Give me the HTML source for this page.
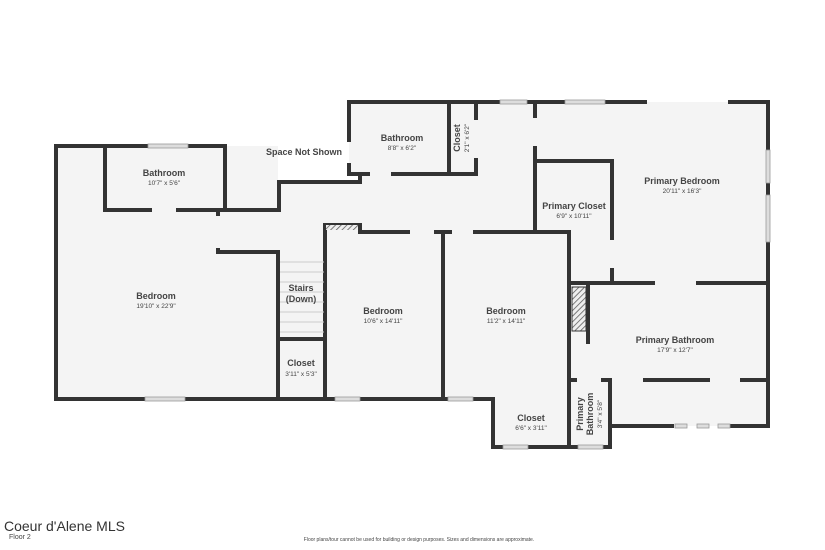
<!DOCTYPE html>
<html><head><meta charset="utf-8"><style>
html,body{margin:0;padding:0;background:#fff;}
svg{display:block;font-family:"Liberation Sans",sans-serif;}
.t{font-weight:bold;fill:#444;font-size:9px;text-anchor:middle;}
.d{fill:#444;font-size:6.5px;text-anchor:middle;}
</style></head><body>
<svg width="825" height="550" viewBox="0 0 825 550" xmlns="http://www.w3.org/2000/svg">
<defs><pattern id="h" width="4" height="4" patternUnits="userSpaceOnUse" patternTransform="rotate(45)"><rect width="4" height="4" fill="#eee"/><line x1="0" y1="0" x2="0" y2="4" stroke="#555" stroke-width="1.5"/></pattern></defs>
<g fill="#f4f4f4">
<rect x="56" y="146" width="222" height="253"/>
<polygon points="218,210 279,210 279,182 360,182 360,174 349,174 349,102 768,102 768,426 611,426 611,447 493,447 493,399 278,399 278,252 218,252"/>
</g>
<g fill="none" stroke="#333" stroke-width="4" stroke-linecap="square">
<!-- left bedroom -->
<polyline points="56,146 56,399 493,399"/>
<line x1="56" y1="146" x2="147" y2="146"/><line x1="188" y1="146" x2="225" y2="146"/>
<polyline points="105,146 105,210 150,210"/><polyline points="178,210 279,210 279,182 360,182 360,176"/>
<line x1="225" y1="146" x2="225" y2="210"/>
<line x1="218" y1="210" x2="218" y2="214"/>
<polyline points="218,250 218,252 278,252 278,399"/>
<line x1="278" y1="339" x2="325" y2="339"/>
<!-- upper bathroom/closet -->
<polyline points="349,140 349,102 500,102"/><line x1="349" y1="165" x2="349" y2="174"/>
<line x1="349" y1="174" x2="368" y2="174"/><line x1="393" y1="174" x2="476" y2="174"/>
<line x1="449" y1="102" x2="449" y2="174"/>
<line x1="476" y1="102" x2="476" y2="118"/><line x1="476" y1="160" x2="476" y2="174"/>
<line x1="527" y1="102" x2="565" y2="102"/><line x1="605" y1="102" x2="645" y2="102"/><line x1="730" y1="102" x2="768" y2="102"/>
<polyline points="768,102 768,426 740,426"/>
<!-- bedroom2 -->
<polyline points="325,399 325,225 360,225 360,232 408,232"/><line x1="436" y1="232" x2="450" y2="232"/>
<line x1="443" y1="232" x2="443" y2="399"/><line x1="325" y1="390" x2="325" y2="399"/>
<line x1="475" y1="232" x2="569" y2="232"/>
<line x1="569" y1="232" x2="569" y2="399"/>
<!-- primary closet -->
<line x1="535" y1="102" x2="535" y2="116"/><line x1="535" y1="148" x2="535" y2="232"/>
<polyline points="535,161 612,161 612,238"/><line x1="612" y1="270" x2="612" y2="283"/>
<line x1="569" y1="283" x2="653" y2="283"/><line x1="698" y1="283" x2="768" y2="283"/>
<polyline points="588,283 588,342"/>
<line x1="645" y1="380" x2="708" y2="380"/><line x1="742" y1="380" x2="768" y2="380"/>
<!-- small rooms -->
<polyline points="569,399 569,447 493,447 493,399"/>
<polyline points="571,380 575,380"/><polyline points="603,380 610,380 610,447 569,447"/>
<line x1="569" y1="380" x2="569" y2="447"/>
<line x1="610" y1="426" x2="672" y2="426"/><line x1="732" y1="426" x2="768" y2="426"/>
</g>
<rect x="326" y="225" width="32" height="5" fill="url(#h)"/>
<rect x="572" y="287" width="14" height="44" fill="url(#h)" stroke="#333" stroke-width="1"/>
<g stroke="#ccc" stroke-width="1">
<line x1="280" y1="262" x2="324" y2="262"/><line x1="280" y1="272" x2="324" y2="272"/><line x1="280" y1="282" x2="324" y2="282"/><line x1="280" y1="292" x2="324" y2="292"/><line x1="280" y1="302" x2="324" y2="302"/><line x1="280" y1="312" x2="324" y2="312"/><line x1="280" y1="322" x2="324" y2="322"/><line x1="280" y1="332" x2="324" y2="332"/>
</g>
<g fill="#ddd" stroke="#999" stroke-width="0.8">
<rect x="148" y="144" width="40" height="4"/><rect x="145" y="397" width="40" height="4"/>
<rect x="500" y="100" width="27" height="4"/><rect x="565" y="100" width="40" height="4"/>
<rect x="766" y="150" width="4" height="33"/><rect x="766" y="195" width="4" height="47"/>
<rect x="335" y="397" width="25" height="4"/><rect x="448" y="397" width="25" height="4"/>
<rect x="503" y="445" width="25" height="4"/><rect x="578" y="445" width="25" height="4"/>
<rect x="675" y="424" width="12" height="4"/><rect x="697" y="424" width="12" height="4"/><rect x="718" y="424" width="12" height="4"/>
</g>
<text class="t" x="164" y="176">Bathroom</text><text class="d" x="164" y="185">10'7" x 5'6"</text>
<text class="t" x="304" y="155">Space Not Shown</text>
<text class="t" x="402" y="141">Bathroom</text><text class="d" x="402" y="150">8'8" x 6'2"</text>
<text class="t" transform="translate(460,138) rotate(-90)">Closet</text><text class="d" transform="translate(469,138) rotate(-90)">2'1" x 6'2"</text>
<text class="t" x="682" y="184">Primary Bedroom</text><text class="d" x="682" y="193">20'11" x 16'3"</text>
<text class="t" x="574" y="209">Primary Closet</text><text class="d" x="574" y="218">6'9" x 10'11"</text>
<text class="t" x="156" y="299">Bedroom</text><text class="d" x="156" y="308">19'10" x 22'9"</text>
<text class="t" x="301" y="291">Stairs</text><text class="t" x="301" y="302">(Down)</text>
<text class="t" x="383" y="314">Bedroom</text><text class="d" x="383" y="323">10'6" x 14'11"</text>
<text class="t" x="506" y="314">Bedroom</text><text class="d" x="506" y="323">11'2" x 14'11"</text>
<text class="t" x="675" y="343">Primary Bathroom</text><text class="d" x="675" y="352">17'9" x 12'7"</text>
<text class="t" x="301" y="366">Closet</text><text class="d" x="301" y="376">3'11" x 5'3"</text>
<text class="t" x="531" y="421">Closet</text><text class="d" x="531" y="430">6'6" x 3'11"</text>
<text class="t" transform="translate(583,414) rotate(-90)">Primary</text><text class="t" transform="translate(593,414) rotate(-90)">Bathroom</text><text class="d" transform="translate(602,414) rotate(-90)">3'4" x 5'8"</text>
<text x="4" y="531" font-size="14" fill="#333">Coeur d'Alene MLS</text>
<text x="9" y="539" font-size="7" fill="#444">Floor 2</text>
<text x="419" y="541" font-size="5" fill="#444" text-anchor="middle">Floor plans/tour cannot be used for building or design purposes. Sizes and dimensions are approximate.</text>
</svg>
</body></html>
